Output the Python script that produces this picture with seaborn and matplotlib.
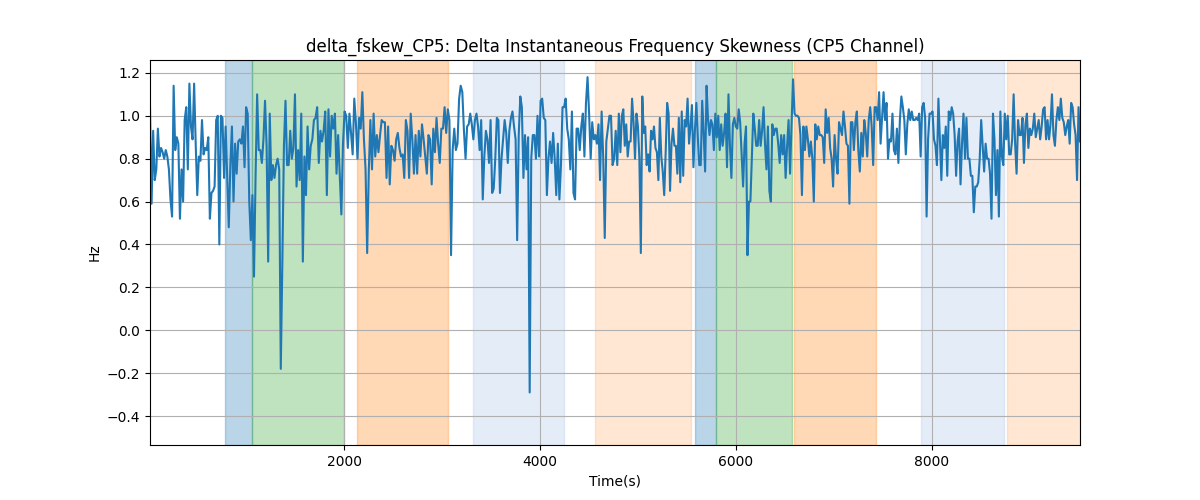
import numpy as np
import pandas as pd
import seaborn as sns
import matplotlib.pyplot as plt

# time edges of the sample blocks (s)
seg_edges = [20, 1660, 3240, 4820, 6400, 7990, 9510]

seg1 = [1.04, 0.59, 0.93, 0.70, 0.75, 0.94, 0.81, 0.85, 0.83, 0.80, 0.84, 0.81, 0.75, 0.61, 0.53, 1.14,
        0.84, 0.90, 0.87, 0.52, 0.75, 0.60, 0.98, 1.04, 0.75, 1.15, 0.95, 0.89, 1.15, 0.87, 0.63, 0.81,
        0.79, 0.98, 0.82, 0.85, 0.84, 0.90, 0.52, 0.64, 0.65, 0.67, 0.98, 1.00, 0.40, 1.00, 0.99, 0.71,
        0.95, 0.72, 0.48, 0.77, 0.95, 0.60, 0.87, 0.73, 0.88, 0.89, 0.87, 0.95, 0.76, 1.04, 1.01, 0.60,
        0.42, 0.63, 0.25, 0.72, 1.10, 0.84, 0.84, 0.78, 0.89, 1.07, 0.86, 0.32, 1.01, 0.70, 0.77, 0.71,
        0.77, 0.80, 0.75, -0.18, 0.32, 0.86, 1.07, 0.77, 0.77, 0.93, 0.80, 0.85, 1.10, 0.67, 0.84, 0.70,
        1.01, 0.32, 0.81, 0.63, 0.95, 0.75]
seg2 = [0.86, 0.89, 0.98, 0.99, 1.04, 0.78, 0.93, 0.88, 0.93, 1.02, 0.63, 1.03, 0.81, 1.00, 0.94, 1.01,
        0.73, 0.91, 0.73, 0.54, 0.87, 1.02, 1.00, 0.85, 1.01, 0.92, 0.82, 1.08, 0.97, 0.80, 0.99, 0.94,
        1.11, 0.89, 0.75, 0.36, 0.74, 0.98, 0.75, 1.01, 0.81, 0.91, 0.83, 0.91, 0.98, 0.97, 0.97, 0.71,
        0.95, 0.68, 0.86, 0.84, 0.79, 0.89, 0.92, 0.85, 0.81, 0.82, 0.71, 0.98, 0.93, 0.71, 1.01, 0.89,
        0.73, 0.91, 0.73, 0.93, 0.81, 0.96, 0.89, 0.81, 0.73, 0.91, 0.89, 0.68, 0.94, 0.83, 0.99, 0.87,
        0.78, 0.94, 0.94, 1.04, 0.92, 1.03, 0.98, 0.35, 0.84, 0.94, 0.84, 0.87, 1.08, 1.14, 1.11, 0.93]
seg3 = [0.80, 0.95, 0.96, 1.01, 0.96, 0.89, 0.98, 1.01, 0.95, 0.84, 0.98, 0.61, 0.81, 0.93, 0.89, 0.78,
        0.98, 0.64, 0.66, 0.80, 0.99, 0.98, 0.64, 0.80, 0.89, 0.98, 0.92, 0.78, 0.93, 0.99, 1.02, 0.95,
        0.89, 0.42, 0.91, 1.09, 1.04, 0.71, 0.91, 0.75, 0.90, -0.29, 0.80, 0.91, 0.91, 0.80, 1.00, 0.81,
        1.07, 1.08, 0.99, 0.98, 0.63, 0.80, 0.88, 0.78, 0.92, 0.80, 0.63, 0.87, 0.61, 0.77, 1.04, 1.04,
        1.08, 0.94, 0.89, 0.75, 1.02, 0.64, 0.61, 0.94, 0.94, 0.84, 0.95, 1.01, 0.81, 1.06, 1.18, 1.01,
        0.80, 0.97, 0.89, 0.91, 0.87, 0.96, 0.70, 1.02, 0.81, 0.43, 0.88, 0.94, 1.00, 1.00, 0.77, 0.80,
        0.93, 0.77, 1.01]
seg4 = [0.83, 1.00, 1.03, 0.86, 0.96, 0.81, 0.88, 0.88, 1.08, 0.97, 0.80, 1.01, 0.95, 0.80, 0.36, 1.09,
        0.92, 0.95, 0.77, 0.82, 0.74, 0.93, 0.89, 0.95, 0.85, 0.83, 0.70, 0.99, 0.81, 0.74, 0.63, 0.83,
        1.06, 1.01, 0.65, 0.87, 0.94, 0.86, 0.86, 0.73, 0.99, 0.69, 1.02, 0.72, 0.98, 0.95, 1.08, 0.87,
        0.95, 1.05, 0.76, 0.93, 1.06, 0.90, 0.77, 0.77, 1.07, 0.92, 0.74, 1.14, 0.98, 0.91, 0.98, 0.96,
        0.84, 1.01, 0.90, 1.00, 0.84, 0.96, 0.86, 0.92, 1.01, 0.76, 1.10, 0.86, 0.71, 0.96, 0.99, 0.95,
        0.94, 1.03, 0.97, 0.82, 0.67, 0.87, 0.95, 0.35, 0.60, 0.60, 0.81, 1.01, 0.94, 0.86, 0.86, 0.98,
        0.86, 0.93, 1.04, 0.87, 0.75, 0.95, 0.65, 0.60, 0.96, 0.91]
seg5 = [0.94, 0.94, 0.87, 0.78, 0.91, 0.82, 0.91, 0.71, 0.86, 0.98, 0.73, 0.96, 1.17, 1.01, 1.00, 1.00,
        0.99, 0.91, 0.63, 0.95, 0.84, 0.95, 0.89, 0.81, 0.88, 0.80, 0.60, 0.96, 0.89, 0.95, 0.91, 0.91,
        0.90, 0.78, 1.03, 0.92, 0.99, 0.85, 0.80, 0.67, 0.91, 0.80, 0.73, 0.97, 0.94, 0.91, 1.02, 0.95,
        0.87, 0.86, 0.59, 0.97, 0.97, 0.84, 0.97, 1.02, 0.84, 0.74, 0.92, 0.81, 0.98, 0.92, 0.81, 0.98,
        1.04, 0.95, 0.77, 1.04, 1.04, 0.98, 1.11, 0.87, 0.99, 1.11, 0.98, 1.06, 0.80, 0.89, 0.88, 1.01,
        0.84, 0.82, 0.94, 0.78, 0.98, 1.09, 1.04, 0.98, 0.82, 0.96, 1.03, 0.98, 1.02, 0.98, 0.98, 0.99,
        0.98, 1.01, 0.81, 1.04, 1.06, 0.99, 0.53, 0.89, 1.01]
seg6 = [1.01, 1.02, 0.89, 0.86, 0.77, 1.08, 0.89, 0.70, 0.91, 0.85, 0.95, 0.72, 1.02, 0.98, 1.04, 1.01,
        0.91, 0.72, 0.88, 0.94, 0.68, 0.87, 1.01, 0.80, 0.99, 0.80, 0.80, 0.72, 0.72, 0.55, 0.67, 0.67,
        0.69, 0.80, 0.98, 0.86, 0.74, 0.87, 0.80, 0.80, 0.73, 0.52, 1.01, 0.89, 0.63, 0.84, 0.53, 1.02,
        0.81, 0.77, 1.01, 0.89, 1.00, 0.82, 0.82, 0.89, 1.10, 0.87, 0.73, 0.98, 0.91, 0.91, 0.99, 0.78,
        0.96, 1.01, 0.85, 0.94, 0.91, 0.94, 1.01, 0.90, 0.94, 0.98, 0.89, 0.95, 1.03, 1.04, 0.89, 0.98,
        0.89, 0.96, 1.10, 0.91, 0.86, 0.98, 1.04, 0.98, 1.08, 0.99, 0.97, 0.91, 0.95, 0.98, 0.87, 1.06,
        1.04, 0.96, 0.91, 0.70, 1.04, 0.88]

# shaded intervals
span_start = [785, 1056, 2132, 3319, 4561, 5582, 5792, 6588, 7887, 8765]
span_end = [1056, 2000, 3058, 4248, 5541, 5792, 6574, 7428, 8734, 9510]
span_color = ['tab:blue', 'tab:green', 'tab:orange', '#a8c3e8', 'tab:orange',
              'tab:blue', 'tab:green', 'tab:orange', '#a8c3e8', 'tab:orange']
span_alpha = [0.3, 0.3, 0.3, 0.3, 0.18, 0.3, 0.3, 0.3, 0.3, 0.18]

segments = [seg1, seg2, seg3, seg4, seg5, seg6]
times = []
for i, seg in enumerate(segments):
    last = i == len(segments) - 1
    times.append(np.linspace(seg_edges[i], seg_edges[i + 1], len(seg), endpoint=last))

df = pd.DataFrame({'time': np.concatenate(times), 'value': np.concatenate(segments)})

fig, ax = plt.subplots(figsize=(12, 5))

for s, e, c, a in zip(span_start, span_end, span_color, span_alpha):
    ax.axvspan(s, e, color=c, alpha=a)

sns.lineplot(data=df, x='time', y='value', ax=ax, color='tab:blue', linewidth=1.5)

ax.set_xlim(df['time'].min(), df['time'].max())
ax.set_ylim(-0.535, 1.26)
ax.grid(True)
ax.set_title('delta_fskew_CP5: Delta Instantaneous Frequency Skewness (CP5 Channel)')
ax.set_xlabel('Time(s)')
ax.set_ylabel('Hz')

plt.savefig('out.png', dpi=100)
